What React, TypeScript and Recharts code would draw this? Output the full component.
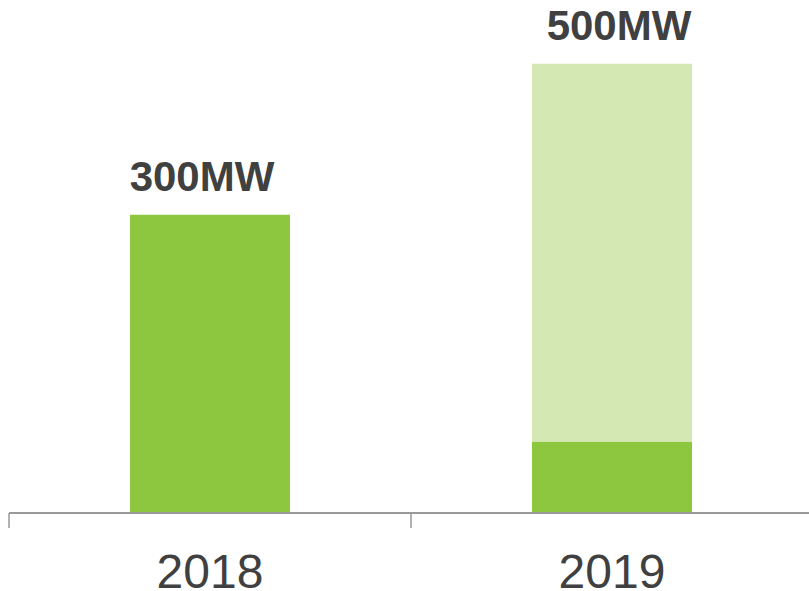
import { Bar, BarChart, LabelList, XAxis, YAxis } from "recharts";

const years = ["2018", "2019"];
const built = [300, 72];
const planned = [0, 380];
const totals = ["300MW", "500MW"];

const data = years.map((year, i) => ({ year, built: built[i], planned: planned[i], label: totals[i] }));

const font = "Liberation Sans, Arial, sans-serif";

const drawTotal = (props: any) => {
  const { x, y, width, value } = props;
  const dx = value === totals[0] ? -8 : 7;
  return (
    <text x={x + width / 2 + dx} y={y - 24} textAnchor="middle" fontSize={42} fontWeight="bold" fill="#404040" fontFamily={font}>
      {value}
    </text>
  );
};

const YearTick = (props: any) => {
  const { x, y, payload, index, visibleTicksCount } = props;
  const half = payload?.offset ?? 201;
  const top = y - 8;
  const last = index === (visibleTicksCount ?? years.length) - 1;
  return (
    <g>
      <line x1={x - half} x2={x - half} y1={top} y2={top + 15} stroke="#999999" strokeWidth={1.5} />
      {last && <line x1={x + half} x2={x + half} y1={top} y2={top + 15} stroke="#999999" strokeWidth={1.5} />}
      <text x={x} y={top + 75} textAnchor="middle" fontSize={48} fill="#404040" fontFamily={font}>
        {payload.value}
      </text>
    </g>
  );
};

export default function App() {
  return (
    <div style={{ position: "absolute", left: 0, top: 0, width: 809, height: 591, overflow: "hidden", background: "#fff" }}>
      <BarChart width={817} height={591} data={data} barSize={160} margin={{ top: 16, right: 4, left: 9, bottom: 0 }}>
        <XAxis
          dataKey="year"
          axisLine={{ stroke: "#999999", strokeWidth: 2 }}
          tickLine={false}
          height={78}
          tick={<YearTick />}
          interval={0}
        />
        <YAxis hide domain={[0, 500]} />
        <Bar dataKey="built" stackId="a" fill="#8DC63F" isAnimationActive={false}>
          <LabelList dataKey="label" content={(p: any) => (p.value === totals[0] ? drawTotal(p) : null)} />
        </Bar>
        <Bar dataKey="planned" stackId="a" fill="#D3E8B3" isAnimationActive={false}>
          <LabelList dataKey="label" content={(p: any) => (p.value !== totals[0] ? drawTotal(p) : null)} />
        </Bar>
      </BarChart>
    </div>
  );
}
